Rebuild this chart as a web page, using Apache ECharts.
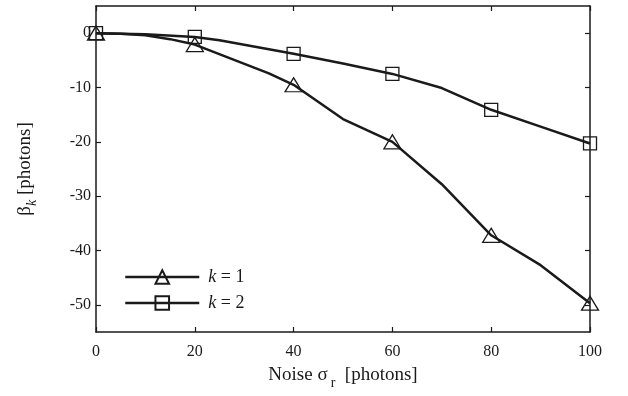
<!DOCTYPE html>
<html>
<head>
<meta charset="utf-8">
<script src="https://cdn.jsdelivr.net/npm/echarts@6/dist/echarts.min.js"></script>
<style>
  html, body { margin: 0; padding: 0; background: #fff; }
  #chart { width: 628px; height: 396px; }
</style>
</head>
<body>
<div id="chart"></div>
<script>
// k = 1 curve (markers drawn every 20 photons)
const k1X = [0, 5, 10, 15, 20, 35, 40, 50, 60, 70, 80, 90, 100];
const k1Y = [0, -0.1, -0.4, -1.1, -2.1, -7.4, -9.5, -15.8, -20.0, -27.8, -37.2, -42.7, -49.7];
// k = 2 curve
const k2X = [0, 10, 20, 25, 40, 50, 60, 70, 80, 90, 100];
const k2Y = [0, -0.2, -0.7, -1.3, -3.8, -5.6, -7.5, -10.1, -14.1, -17.2, -20.3];

const yTicks = [-50, -40, -30, -20, -10, 0];

const font = "Liberation Serif";
const ink = "#1a1a1a";

// only every 20 photons gets a marker
const toData = (xs, ys) =>
  xs.map((x, i) => (x % 20 === 0 ? [x, ys[i]] : { value: [x, ys[i]], symbol: "none" }));

const chart = echarts.init(document.getElementById("chart"));

const tick = { show: true, inside: true, length: 5, lineStyle: { color: ink, width: 1.2 } };
const line = { show: true, onZero: false, lineStyle: { color: ink, width: 1.5 } };

const option = {
  animation: false,
  backgroundColor: "#fff",
  grid: { left: 96, right: 38, top: 6, bottom: 64 },
  legend: {
    orient: "vertical",
    left: 124,
    top: 268,
    padding: 0,
    itemWidth: 74,
    itemHeight: 17,
    itemGap: 8,
    lineStyle: { width: 2.5, color: ink },
    textStyle: {
      fontFamily: font,
      fontSize: 18,
      color: ink,
      padding: [0, 0, 0, 4],
      rich: { i: { fontFamily: font, fontSize: 18, fontStyle: "italic", color: ink } },
    },
    formatter: (name) => (name === "k1" ? "{i|k} = 1" : "{i|k} = 2"),
    data: ["k1", "k2"],
  },
  xAxis: [
    {
      type: "value",
      min: 0,
      max: 100,
      interval: 20,
      name: "Noise σ{sub|r}  [photons]",
      nameLocation: "middle",
      nameGap: 29,
      nameTextStyle: {
        fontFamily: font,
        fontSize: 19,
        color: ink,
        rich: { sub: { fontFamily: font, fontSize: 14, color: ink, verticalAlign: "top", padding: [15, 0, 0, 3] } },
      },
      axisLine: line,
      axisTick: tick,
      axisLabel: { fontFamily: font, fontSize: 16, color: ink, margin: 12 },
      splitLine: { show: false },
    },
    {
      type: "value",
      position: "top",
      min: 0,
      max: 100,
      interval: 20,
      axisLine: line,
      axisTick: tick,
      axisLabel: { show: false },
      splitLine: { show: false },
    },
  ],
  yAxis: [
    {
      type: "value",
      min: -55,
      max: 5,
      name: "β{sub|k} [photons]",
      nameLocation: "middle",
      nameGap: 57,
      nameTextStyle: {
        fontFamily: font,
        fontSize: 19,
        color: ink,
        rich: { sub: { fontFamily: font, fontSize: 14, fontStyle: "italic", color: ink, verticalAlign: "top", padding: [13, 0, 0, 0] } },
      },
      axisLine: line,
      axisTick: Object.assign({ customValues: yTicks }, tick),
      axisLabel: { fontFamily: font, fontSize: 16, color: ink, margin: 5, customValues: yTicks },
      splitLine: { show: false },
    },
    {
      type: "value",
      position: "right",
      min: -55,
      max: 5,
      axisLine: line,
      axisTick: Object.assign({ customValues: yTicks }, tick),
      axisLabel: { show: false },
      splitLine: { show: false },
    },
  ],
  series: [
    {
      name: "k1",
      type: "line",
      data: toData(k1X, k1Y),
      symbol: "triangle",
      symbolSize: [17, 14],
      showAllSymbol: true,
      lineStyle: { color: ink, width: 2.5 },
      itemStyle: { color: "transparent", borderColor: ink, borderWidth: 1.3 },
      z: 3,
    },
    {
      name: "k2",
      type: "line",
      data: toData(k2X, k2Y),
      symbol: "rect",
      symbolSize: 13,
      showAllSymbol: true,
      lineStyle: { color: ink, width: 2.5 },
      itemStyle: { color: "transparent", borderColor: ink, borderWidth: 1.3 },
      z: 3,
    },
  ],
};

chart.setOption(option);
</script>
</body>
</html>
